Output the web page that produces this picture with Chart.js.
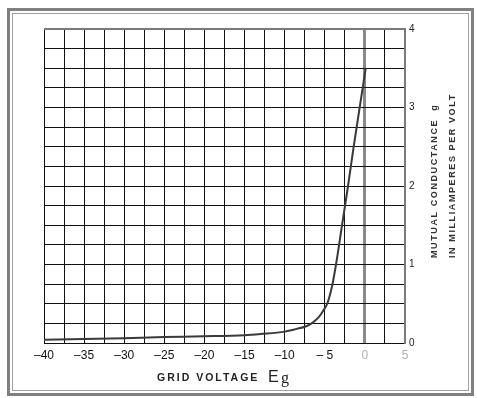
<!DOCTYPE html>
<html>
<head>
<meta charset="utf-8">
<script src="https://cdn.jsdelivr.net/npm/chart.js@4.4.1/dist/chart.umd.min.js"></script>
<style>
  html, body { margin: 0; padding: 0; background: #fff; }
  canvas { display: block; }
</style>
</head>
<body>
<canvas id="myChart" width="477" height="398"></canvas>
<script>
// grid voltage (volts) and mutual conductance (mA per volt)
const voltage = [-40, -35, -30, -25, -20, -15, -13, -10, -8.5, -7.4, -6.5, -5.7, -5.2, -4.7, -4.1, -3.6, -2.85, -2.1, -1.4, -0.65, 0.1];
const conductance = [0.04, 0.05, 0.062, 0.075, 0.085, 0.10, 0.115, 0.145, 0.18, 0.21, 0.26, 0.335, 0.41, 0.5, 0.72, 1.0, 1.5, 2.0, 2.5, 3.0, 3.5];

const xTickLabels = [-40, -35, -30, -25, -20, -15, -10, -5, 0, 5];
const yTickLabels = [0, 1, 2, 3, 4];

const xTitle = "GRID VOLTAGE";
const xTitleSymbol = "E";
const xTitleSub = "g";
const yTitleLine1 = "MUTUAL CONDUCTANCE  g";
const yTitleLine2 = "IN MILLIAMPERES PER VOLT";

function fmtVolt(v){
  if (v < 0) {
    return "\u2013" + (v == -5 ? " " : "") + Math.abs(v);
  }
  return String(v);
}

const points = voltage.map(function(v, i){ return {x: v, y: conductance[i]}; });

// frame and axis titles
const decor = {
  id: 'decor',
  beforeDraw(chart){
    const ctx = chart.ctx;
    ctx.save();
    ctx.strokeStyle = '#808080';
    ctx.lineWidth = 3;
    ctx.strokeRect(8.5, 9.5, 464, 385);
    ctx.strokeStyle = '#a0a0a0';
    ctx.lineWidth = 1;
    ctx.strokeRect(12.5, 13.5, 456, 377);
    ctx.restore();
  },
  afterDraw(chart){
    const ctx = chart.ctx;
    ctx.save();
    ctx.fillStyle = '#222';
    ctx.textBaseline = 'alphabetic';
    ctx.textAlign = 'left';
    ctx.font = 'bold 10.5px "Liberation Sans", Arial, sans-serif';
    ctx.letterSpacing = '2px';
    ctx.fillText(xTitle, 157, 381);
    ctx.letterSpacing = '0px';
    ctx.font = '16px "Liberation Sans", Arial, sans-serif';
    ctx.fillText(xTitleSymbol, 268, 382);
    ctx.font = '16px "Liberation Serif", serif';
    ctx.fillText(xTitleSub, 281, 383);

    ctx.font = 'bold 9px "Liberation Sans", Arial, sans-serif';
    ctx.letterSpacing = '1.6px';
    ctx.fillStyle = '#333';
    ctx.save();
    ctx.translate(437, 258);
    ctx.rotate(-Math.PI / 2);
    ctx.fillText(yTitleLine1, 0, 0);
    ctx.restore();
    ctx.save();
    ctx.translate(455, 258);
    ctx.rotate(-Math.PI / 2);
    ctx.fillText(yTitleLine2, 0, 0);
    ctx.restore();
    ctx.restore();
  }
};

const data = {
  datasets: [{
    label: 'gm',
    data: points,
    borderColor: '#3a3a3a',
    borderWidth: 2,
    pointRadius: 0,
    cubicInterpolationMode: 'monotone',
    fill: false
  }]
};

const config = {
  type: 'line',
  data: data,
  plugins: [decor],
  options: {
    responsive: false,
    animation: false,
    layout: {
      padding: { left: 44, top: 29, right: 0, bottom: 0 }
    },
    plugins: {
      legend: { display: false },
      tooltip: { enabled: false }
    },
    scales: {
      x: {
        type: 'linear',
        min: -40,
        max: 5,
        afterFit: function(scale){ scale.height = 55; },
        afterBuildTicks: function(scale){
          const t = [];
          for (let v = -40; v <= 5; v += 2.5) t.push({value: v});
          scale.ticks = t;
        },
        grid: {
          color: function(c){ return c.tick && c.tick.value === 0 ? '#8a8a8a' : '#111'; },
          lineWidth: function(c){ return c.tick && c.tick.value === 0 ? 3 : 1; },
          drawTicks: false
        },
        border: { color: '#111', width: 1 },
        ticks: {
          autoSkip: false,
          maxRotation: 0,
          padding: 5,
          color: function(c){ return c.tick.value >= 0 ? '#b0b0b0' : '#111'; },
          font: { family: '"Liberation Sans", Arial, sans-serif', size: 12 },
          callback: function(v){ return xTickLabels.indexOf(v) >= 0 ? fmtVolt(v) : ''; }
        }
      },
      y: {
        type: 'linear',
        position: 'right',
        min: 0,
        max: 4,
        afterFit: function(scale){ scale.width = 72; },
        afterBuildTicks: function(scale){
          const t = [];
          for (let v = 0; v <= 4; v += 0.25) t.push({value: v});
          scale.ticks = t;
        },
        grid: {
          color: function(c){ return c.tick && c.tick.value === 4 ? '#7a7a7a' : '#111'; },
          lineWidth: function(c){ return c.tick && c.tick.value === 4 ? 2 : 1; },
          drawTicks: false
        },
        border: { color: '#7a7a7a', width: 2 },
        ticks: {
          autoSkip: false,
          padding: 4,
          color: '#222',
          font: { family: '"Liberation Sans", Arial, sans-serif', size: 10 },
          callback: function(v){ return yTickLabels.indexOf(v) >= 0 ? String(v) : ''; }
        }
      }
    }
  }
};

const myChart = new Chart(document.getElementById('myChart'), config);
</script>
</body>
</html>
